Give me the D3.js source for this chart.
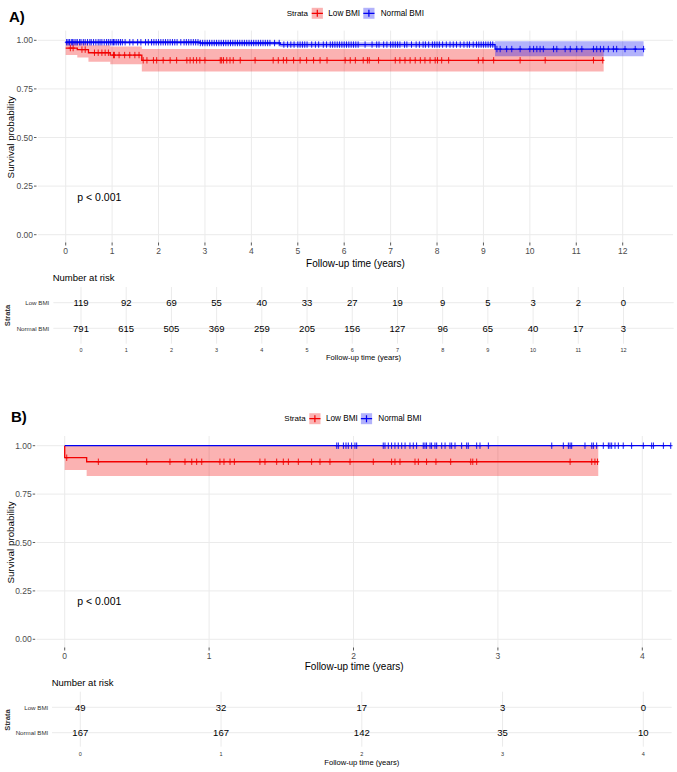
<!DOCTYPE html>
<html><head><meta charset="utf-8">
<script src="https://cdn.jsdelivr.net/npm/d3@7"></script>
<style>body{margin:0;background:#fff;} text{font-family:"Liberation Sans",Arial,sans-serif;}</style>
</head><body>
<script>
// ---------- DATA ----------
const strata = ["Low BMI", "Normal BMI"];
const survTicks = [0, 0.25, 0.5, 0.75, 1];
const survTickLabels = ["0.00", "0.25", "0.50", "0.75", "1.00"];
const timeTicksA = [0,1,2,3,4,5,6,7,8,9,10,11,12];
const timeTicksB = [0,1,2,3,4];

// Panel A – Low BMI
const aLowTime  = [0, 0.25, 0.49, 0.96, 1.64];
const aLowSurv  = [0.96, 0.952, 0.936, 0.924, 0.897];
const aLowUpper = [0.99, 0.985, 0.975, 0.968, 0.955];
const aLowLower = [0.924, 0.912, 0.89, 0.877, 0.84];
const aLowEnd = 11.59;
const aLowCensor = [0.1,0.16,0.35,0.42,0.62,0.7,0.78,0.85,0.92,1.03,1.05,1.15,1.27,1.38,1.49,1.58,
  1.67,1.75,1.89,1.96,2.10,2.25,2.39,2.61,2.68,2.75,2.82,2.89,3.0,3.33,3.36,3.40,3.47,3.54,3.61,3.76,4.08,
  4.47,4.58,4.69,4.76,4.91,5.05,5.19,5.34,5.48,5.63,6.02,6.13,6.24,6.41,6.50,6.54,6.74,7.10,7.20,7.31,7.42,
  7.53,7.64,7.74,7.85,7.96,8.01,8.10,8.25,8.89,8.99,9.22,9.79,10.33,11.37,11.57];

// Panel A – Normal BMI
const aNormTime  = [0, 2.9, 4.62, 9.25];
const aNormSurv  = [0.99, 0.986, 0.978, 0.955];
const aNormUpper = [0.997, 0.994, 0.99, 0.995];
const aNormLower = [0.981, 0.976, 0.965, 0.918];
const aNormEnd = 12.45;
const aNormCensor = [0.02,0.05,0.08,0.12,0.15,0.18,0.22,0.25,0.3,0.33,0.38,0.42,0.47,0.52,0.55,0.6,0.65,0.7,0.74,
  0.78,0.83,0.88,0.92,0.96,1.0,1.03,1.06,1.1,1.14,1.18,1.22,1.28,1.38,1.45,1.55,1.62,1.72,1.78,1.85,1.9,1.95,2.0,
  2.05,2.1,2.15,2.2,2.25,2.3,2.35,2.4,2.48,2.55,2.6,2.65,2.7,2.75,2.8,2.85,2.9,2.95,3.0,3.05,3.1,3.15,3.2,3.25,
  3.3,3.35,3.4,3.45,3.5,3.55,3.6,3.65,3.7,3.75,3.8,3.85,3.9,3.95,4.0,4.05,4.1,4.15,4.2,4.25,4.3,4.35,4.4,4.5,
  4.6,4.7,4.78,4.85,4.92,5.0,5.05,5.1,5.15,5.2,5.3,5.38,5.45,5.55,5.62,5.7,5.75,5.8,5.85,5.9,5.95,6.0,6.05,6.1,
  6.15,6.2,6.25,6.3,6.45,6.6,6.7,6.75,6.85,6.92,7.0,7.05,7.1,7.15,7.2,7.3,7.35,7.45,7.55,7.62,7.7,7.75,7.82,7.9,
  7.95,8.0,8.05,8.12,8.2,8.28,8.35,8.42,8.5,8.58,8.65,8.7,8.78,8.85,8.9,8.95,9.0,9.05,9.1,9.15,9.2,
  9.29,9.36,9.50,9.61,9.79,10.0,10.08,10.15,10.22,10.29,10.51,10.58,10.76,10.87,11.01,11.12,11.37,11.44,11.52,
  11.59,11.69,11.80,11.87,12.05,12.27,12.45];

// Panel B – Low BMI
const bLowTime  = [0, 0, 0.152];
const bLowSurv  = [1.0, 0.938, 0.917];
const bLowUpper = [1.0, 1.0, 1.0];
const bLowLower = [1.0, 0.874, 0.843];
const bLowEnd = 3.695;
const bLowCensor = [0.014,0.233,0.568,0.729,0.833,0.88,0.914,0.949,1.075,1.103,1.145,1.175,1.352,1.387,1.468,
  1.514,1.549,1.618,1.71,1.768,1.837,1.976,2.137,2.264,2.287,2.322,2.426,2.449,2.506,2.571,2.673,2.812,2.826,
  2.853,3.50,3.65,3.672,3.69];

// Panel B – Normal BMI
const bNormTime  = [0];
const bNormSurv  = [1.0];
const bNormUpper = [1.0];
const bNormLower = [1.0];
const bNormEnd = 4.197;
const bNormCensor = [1.884,1.895,1.93,1.948,1.964,1.987,2.01,2.022,2.206,2.218,2.241,2.264,2.287,2.31,2.334,2.357,
  2.391,2.414,2.437,2.483,2.495,2.506,2.53,2.541,2.564,2.576,2.611,2.634,2.668,2.68,2.703,2.749,2.784,2.795,
  2.853,2.876,2.934,3.373,3.453,3.488,3.50,3.511,3.603,3.65,3.661,3.684,3.73,3.765,3.776,3.788,3.811,3.834,
  3.868,3.926,4.007,4.065,4.077,4.146,4.197];

// Numbers at risk
const riskA_low  = [119,92,69,55,40,33,27,19,9,5,3,2,0];
const riskA_norm = [791,615,505,369,259,205,156,127,96,65,40,17,3];
const riskB_low  = [49,32,17,3,0];
const riskB_norm = [167,167,142,35,10];

const pValueText = "p < 0.001";
const colors = {"Low BMI": "#f20000", "Normal BMI": "#0000f2"};

// ---------- DRAW ----------
const svg = d3.select("body").append("svg").attr("width", 677).attr("height", 772);
const FONT_GREY = "#4d4d4d";

function stepVal(times, vals, t) {
  let v = vals[0];
  for (let i = 0; i < times.length; i++) if (times[i] <= t) v = vals[i];
  return v;
}

function drawPanel(cfg) {
  const g = svg.append("g");
  const {x, y, box, ticks} = cfg;
  g.selectAll(".hg").data(survTicks).join("line")
    .attr("x1", box.l).attr("x2", box.r).attr("y1", d => y(d)).attr("y2", d => y(d))
    .attr("stroke", "#ebebeb").attr("stroke-width", 1);
  g.selectAll(".vg").data(ticks).join("line")
    .attr("x1", d => x(d)).attr("x2", d => x(d)).attr("y1", box.t).attr("y2", box.b)
    .attr("stroke", "#ebebeb").attr("stroke-width", 1);
  g.selectAll(".yl").data(survTicks).join("text")
    .attr("x", box.l - 5).attr("y", d => y(d)).attr("text-anchor", "end")
    .attr("dominant-baseline", "central").attr("font-size", 8.5).attr("fill", FONT_GREY)
    .text((d, i) => survTickLabels[i]);
  g.selectAll(".yt").data(survTicks).join("line")
    .attr("x1", box.l - 4).attr("x2", box.l - 1.5).attr("y1", d => y(d)).attr("y2", d => y(d))
    .attr("stroke", "#333").attr("stroke-width", 0.8);
  g.selectAll(".xt").data(ticks).join("line")
    .attr("x1", d => x(d)).attr("x2", d => x(d)).attr("y1", box.b - 1.5).attr("y2", box.b + 1.5)
    .attr("stroke", "#333").attr("stroke-width", 0.8);
  g.selectAll(".xl").data(ticks).join("text")
    .attr("x", d => x(d)).attr("y", box.b + 6.5).attr("text-anchor", "middle")
    .attr("dominant-baseline", "central").attr("font-size", 8.5).attr("fill", FONT_GREY)
    .text(d => d);
  g.append("text").attr("x", (box.l + box.r) / 2).attr("y", cfg.xTitleY)
    .attr("text-anchor", "middle").attr("dominant-baseline", "central")
    .attr("font-size", 10).text("Follow-up time (years)");
  g.append("text").attr("transform", `translate(10,${(box.t + box.b) / 2}) rotate(-90)`)
    .attr("text-anchor", "middle").attr("dominant-baseline", "central")
    .attr("font-size", 9.8).text("Survival probability");
  const area = d3.area().curve(d3.curveStepAfter).x(d => x(d.t)).y0(d => y(d.lo)).y1(d => y(d.hi));
  const line = d3.line().curve(d3.curveStepAfter).x(d => x(d.t)).y(d => y(d.s));
  cfg.curves.forEach(c => {
    const pts = c.time.map((t, i) => ({t, s: c.surv[i], hi: c.upper[i], lo: c.lower[i]}));
    const last = pts[pts.length - 1];
    pts.push({t: c.end, s: last.s, hi: last.hi, lo: last.lo});
    c.pts = pts;
    g.append("path").datum(pts).attr("d", area).attr("fill", colors[c.name]).attr("fill-opacity", 0.3);
  });
  cfg.curves.forEach(c => {
    g.append("path").datum(c.pts).attr("d", line).attr("fill", "none")
      .attr("stroke", colors[c.name]).attr("stroke-width", 1.3);
    g.selectAll(null).data(c.censor).join("path")
      .attr("d", t => {
        const px = x(t), py = y(stepVal(c.time, c.surv, t));
        return `M${px},${py - 3.2}V${py + 3.2}M${px - 1.8},${py}H${px + 1.8}`;
      })
      .attr("stroke", colors[c.name]).attr("stroke-width", 0.9);
  });
  g.append("text").attr("x", 77.3).attr("y", cfg.pY).attr("dominant-baseline", "central")
    .attr("font-size", 10.5).text(pValueText);
  g.append("text").attr("x", cfg.letterX).attr("y", cfg.letterY).attr("dominant-baseline", "central")
    .attr("font-size", 15).attr("font-weight", "bold").text(cfg.letter);
  const lg = g.append("g").attr("transform", `translate(${cfg.legX},${cfg.legY})`);
  lg.append("text").attr("x", 0).attr("y", 0).attr("dominant-baseline", "central")
    .attr("font-size", 8).text("Strata");
  const keyX = [25, 76.6];
  const labX = [41.6, 94];
  strata.forEach((s, i) => {
    lg.append("rect").attr("x", keyX[i]).attr("y", -5.5).attr("width", 11.2).attr("height", 11)
      .attr("fill", colors[s]).attr("fill-opacity", 0.3);
    lg.append("path").attr("d", `M${keyX[i]},0H${keyX[i] + 11.2}M${keyX[i] + 5.6},-3.5V3.5`)
      .attr("stroke", colors[s]).attr("stroke-width", 1.2);
    lg.append("text").attr("x", labX[i]).attr("y", 0).attr("dominant-baseline", "central")
      .attr("font-size", 8.2).text(s);
  });
}

function drawRisk(cfg) {
  const g = svg.append("g");
  const {x, box, ticks} = cfg;
  g.append("text").attr("x", cfg.titleX).attr("y", cfg.titleY).attr("dominant-baseline", "central")
    .attr("font-size", 9.5).text("Number at risk");
  g.selectAll(".hg").data(cfg.rowY).join("line")
    .attr("x1", box.l).attr("x2", box.r).attr("y1", d => d).attr("y2", d => d)
    .attr("stroke", "#ebebeb").attr("stroke-width", 1);
  g.selectAll(".vg").data(ticks).join("line")
    .attr("x1", d => x(d)).attr("x2", d => x(d)).attr("y1", box.t).attr("y2", box.b)
    .attr("stroke", "#ebebeb").attr("stroke-width", 1);
  cfg.rows.forEach((r, ri) => {
    g.selectAll(null).data(r).join("text")
      .attr("x", (d, i) => x(ticks[i])).attr("y", cfg.rowY[ri]).attr("text-anchor", "middle")
      .attr("dominant-baseline", "central").attr("font-size", 9.5).text(d => d);
    g.append("text").attr("x", cfg.rowLabX).attr("y", cfg.rowY[ri]).attr("text-anchor", "end")
      .attr("dominant-baseline", "central").attr("font-size", 6.2).attr("fill", "#333").text(strata[ri]);
  });
  g.append("text").attr("transform", `translate(7.5,${(cfg.rowY[0] + cfg.rowY[1]) / 2}) rotate(-90)`)
    .attr("text-anchor", "middle").attr("dominant-baseline", "central")
    .attr("font-size", 7.5).attr("font-weight", "bold").attr("fill", "#333").text("Strata");
  g.selectAll(".tl").data(ticks).join("text")
    .attr("x", d => x(d)).attr("y", cfg.tickY).attr("text-anchor", "middle")
    .attr("dominant-baseline", "central").attr("font-size", 5.5).attr("fill", "#333").text(d => d);
  g.append("text").attr("x", (box.l + box.r) / 2).attr("y", cfg.xTitleY).attr("text-anchor", "middle")
    .attr("dominant-baseline", "central").attr("font-size", 7.6).text("Follow-up time (years)");
}

// Panel A
const xA = d3.scaleLinear().domain([0, 12]).range([65.7, 622.7]);
const yA = d3.scaleLinear().domain([0, 1]).range([234.7, 40.3]);
drawPanel({
  x: xA, y: yA, box: {l: 38, r: 673, t: 30.6, b: 244}, ticks: timeTicksA,
  xTitleY: 263, pY: 196.7, letter: "A)", letterX: 9, letterY: 16.7, legX: 286.7, legY: 13.3,
  curves: [
    {name: "Low BMI", time: aLowTime, surv: aLowSurv, upper: aLowUpper, lower: aLowLower, end: aLowEnd, censor: aLowCensor},
    {name: "Normal BMI", time: aNormTime, surv: aNormSurv, upper: aNormUpper, lower: aNormLower, end: aNormEnd, censor: aNormCensor}
  ]
});
drawRisk({
  x: d3.scaleLinear().domain([0, 12]).range([81, 623.5]), ticks: timeTicksA,
  box: {l: 53.3, r: 673.7, t: 287, b: 343.7},
  titleX: 52.7, titleY: 277.7, rowY: [302.7, 328.3], rowLabX: 49.3, tickY: 349.5, xTitleY: 357.7,
  rows: [riskA_low, riskA_norm]
});

// Panel B
const xB = d3.scaleLinear().domain([0, 4]).range([64.7, 642.3]);
const yB = d3.scaleLinear().domain([0, 1]).range([639.3, 445.7]);
drawPanel({
  x: xB, y: yB, box: {l: 36.7, r: 671.7, t: 436, b: 649}, ticks: timeTicksB,
  xTitleY: 666.7, pY: 601.3, letter: "B)", letterX: 11, letterY: 416.7, legX: 284.3, legY: 418.7,
  curves: [
    {name: "Low BMI", time: bLowTime, surv: bLowSurv, upper: bLowUpper, lower: bLowLower, end: bLowEnd, censor: bLowCensor},
    {name: "Normal BMI", time: bNormTime, surv: bNormSurv, upper: bNormUpper, lower: bNormLower, end: bNormEnd, censor: bNormCensor}
  ]
});
drawRisk({
  x: d3.scaleLinear().domain([0, 4]).range([80.3, 643.3]), ticks: timeTicksB,
  box: {l: 52, r: 671.7, t: 691.7, b: 746.7},
  titleX: 51.7, titleY: 682.7, rowY: [707.3, 732.7], rowLabX: 48.3, tickY: 754, xTitleY: 762.7,
  rows: [riskB_low, riskB_norm]
});
</script>
</body></html>
